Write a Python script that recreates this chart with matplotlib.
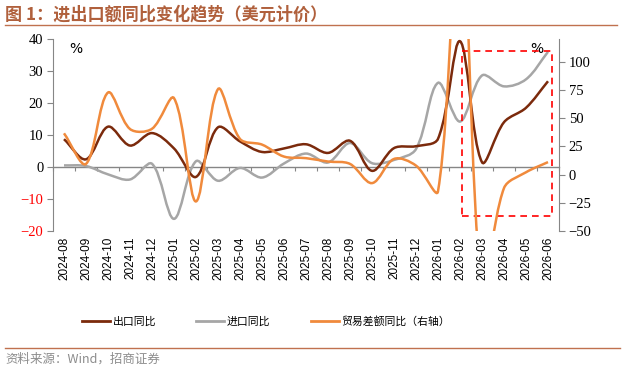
import numpy as np
import matplotlib.pyplot as plt
from matplotlib.path import Path
from matplotlib.patches import PathPatch, Rectangle
from matplotlib.lines import Line2D

plt.rcParams['font.family'] = ['Noto Sans CJK SC', 'DejaVu Sans']

# data
months = ['2024-08', '2024-09', '2024-10', '2024-11', '2024-12',
          '2025-01', '2025-02', '2025-03', '2025-04', '2025-05', '2025-06',
          '2025-07', '2025-08', '2025-09', '2025-10', '2025-11', '2025-12',
          '2026-01', '2026-02', '2026-03', '2026-04', '2026-05', '2026-06']
export_yoy = [8.7, 2.4, 12.6, 6.7, 10.6, 5.8, -3.1, 12.4, 8.0, 4.7, 5.8, 7.1,
              4.4, 8.2, -1.2, 5.9, 6.5, 8.8, 39.3, 1.5, 14.0, 18.5, 26.8]
import_yoy = [0.5, 0.3, -2.3, -3.9, 1.0, -16.2, 1.8, -4.3, -0.3, -3.3, 1.1, 4.2,
              1.4, 7.5, 1.2, 2.2, 5.6, 26.3, 14.2, 28.6, 25.2, 27.4, 36.0]
balance_yoy = [36.5, 9.4, 72.6, 40.3, 40.5, 67.6, -23.8, 75.6, 31.5, 26.5, 15.9, 14.5,
               11.5, 9.4, -7.6, 13.8, 7.9, -14.8, 240, -100, -12.0, 2.0, 11.0]

c_exp = '#7B2A0C'
c_imp = '#A6A6A6'
c_bal = '#F08A3C'
c_axis = '#868686'


def smooth_path(a, xs, ys):
    # smoothed line like excel: bezier handles scaled by neighbouring chord lengths (in pixels)
    pts = a.transData.transform(np.column_stack([xs, ys]).astype(float))
    n = len(pts)
    verts = [pts[0]]
    codes = [Path.MOVETO]
    for i in range(n - 1):
        p0 = pts[i - 1] if i > 0 else pts[i]
        p1 = pts[i]
        p2 = pts[i + 1]
        p3 = pts[i + 2] if i + 2 < n else pts[i + 1]
        l01 = np.hypot(*(p1 - p0))
        l12 = np.hypot(*(p2 - p1))
        l23 = np.hypot(*(p3 - p2))
        c1 = p1 + (p2 - p0) * (l12 / (l01 + l12)) / 3
        c2 = p2 - (p3 - p1) * (l12 / (l12 + l23)) / 3
        verts += [c1, c2, p2]
        codes += [Path.CURVE4] * 3
    return Path(a.transData.inverted().transform(np.array(verts)), codes)


x = np.arange(len(months))

fig = plt.figure(figsize=(6.25, 3.84), dpi=100)
ax = fig.add_axes([53 / 625, 153 / 384, 506 / 625, 192 / 384])
ax2 = ax.twinx()

ax.set_xlim(-0.5, 22.5)
ax.set_ylim(-20, 40)
ax2.set_ylim(-50, 120)
ax.set_yticks(range(-20, 41, 10))
ax2.set_yticks(range(-50, 101, 25))

ax.add_patch(PathPatch(smooth_path(ax, x, export_yoy), fill=False, ec=c_exp, lw=1.8, zorder=3))
ax.add_patch(PathPatch(smooth_path(ax, x, import_yoy), fill=False, ec=c_imp, lw=1.8, zorder=2))
ax2.add_patch(PathPatch(smooth_path(ax2, x, balance_yoy), fill=False, ec=c_bal, lw=1.8, zorder=3))

serif = 'Liberation Serif'
for a in (ax, ax2):
    for s in a.spines.values():
        s.set_visible(False)
    a.tick_params(axis='y', length=4, width=0.8, color=c_axis, labelsize=10.5, pad=3)
    for lab in a.get_yticklabels():
        lab.set_fontfamily(serif)
ax.spines['left'].set_visible(True)
ax.spines['left'].set_color(c_axis)
ax2.spines['right'].set_visible(True)
ax2.spines['right'].set_color(c_axis)
for lab, v in zip(ax.get_yticklabels(), range(-20, 41, 10)):
    if v < 0:
        lab.set_color('red')

ax.set_xticks(x)
ax.set_xticklabels(months, rotation=90, fontsize=8.5, fontfamily='Liberation Sans')
ax.tick_params(axis='x', length=0, pad=4)

# horizontal axis line at zero with tick marks between categories
zero_pos = (0 - (-20)) / 60
sec = ax.secondary_xaxis(zero_pos)
sec.set_xticks(np.arange(-0.5, 23, 1))
sec.set_xticklabels([])
sec.tick_params(axis='x', direction='out', length=3, width=0.8, color=c_axis)
sec.spines['bottom'].set_color(c_axis)
sec.spines['bottom'].set_linewidth(1.0)

ax.text(0.033, 0.985, '%', transform=ax.transAxes, fontsize=10, ha='left', va='top',
        fontfamily='DejaVu Sans')
ax.text(0.944, 0.985, '%', transform=ax.transAxes, fontsize=10, ha='left', va='top',
        fontfamily='DejaVu Sans')

# dashed highlight box
ax.add_patch(Rectangle((0.808, 0.078), 0.178, 0.861, transform=ax.transAxes, fill=False,
                       ec='red', ls=(0, (4, 3)), lw=1.2, clip_on=False, zorder=5))

# title and rules
fig.text(5 / 625, 1 - 14 / 384, '图 1：进出口额同比变化趋势（美元计价）', fontsize=12.3,
         fontweight='bold', color='#B0603C', va='center', ha='left')
fig.add_artist(Line2D([5 / 625, 617 / 625], [1 - 25 / 384] * 2, color='#C0714F', lw=1.0))
fig.add_artist(Line2D([5 / 625, 620 / 625], [1 - 348 / 384] * 2, color='#C0714F', lw=1.0))
fig.text(5 / 625, 1 - 359 / 384, '资料来源：Wind，招商证券', fontsize=9, color='#8C8C8C',
         va='center', ha='left')

handles = [Line2D([], [], color=c_exp, lw=2),
           Line2D([], [], color=c_imp, lw=2),
           Line2D([], [], color=c_bal, lw=2)]
fig.legend(handles, ['出口同比', '进口同比', '贸易差额同比（右轴）'], loc='center',
           bbox_to_anchor=(266 / 625, 1 - 321 / 384), ncol=3, frameon=False, fontsize=7.8,
           handlelength=2.6, handletextpad=0.25, columnspacing=3.7)

plt.savefig('out.png', dpi=100)
